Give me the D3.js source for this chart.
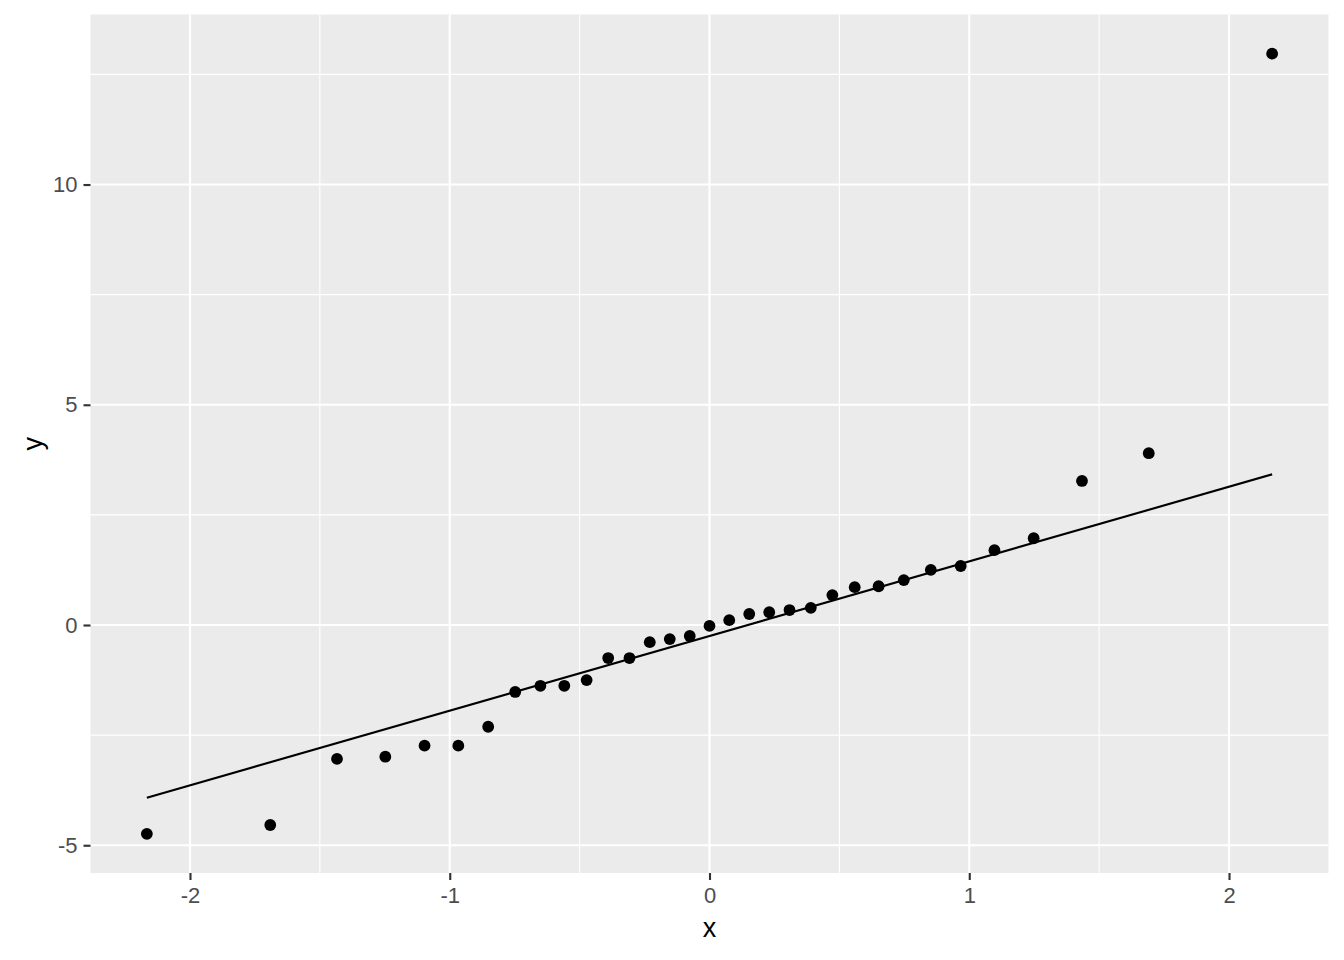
<!DOCTYPE html>
<html><head><meta charset="utf-8">
<script src="https://cdn.jsdelivr.net/npm/d3@7"></script>
<style>body{margin:0;background:#fff;} text{font-family:"Liberation Sans",Arial,sans-serif;}</style>
</head><body><svg id="c" width="1344" height="960"></svg>
<script>
const theoretical = [-2.166,-1.691,-1.434,-1.248,-1.097,-0.967,-0.852,-0.748,-0.651,-0.559,-0.473,-0.390,-0.308,-0.230,-0.153,-0.076,0,0.076,0.153,0.230,0.308,0.390,0.473,0.559,0.651,0.748,0.852,0.967,1.097,1.248,1.434,1.691,2.166];
const sample = [-4.74,-4.54,-3.04,-2.99,-2.74,-2.74,-2.31,-1.52,-1.38,-1.38,-1.25,-0.75,-0.75,-0.39,-0.32,-0.25,-0.02,0.11,0.25,0.29,0.34,0.39,0.68,0.86,0.88,1.02,1.25,1.34,1.70,1.97,3.27,3.90,12.97];
const lineX = [-2.166, 2.166];
const lineY = [-3.92, 3.42];
const xTicks = [-2,-1,0,1,2];
const yTicks = [-5,0,5,10];
const xMinor = [-1.5,-0.5,0.5,1.5];
const yMinor = [-2.5,2.5,7.5,12.5];

const svg = d3.select("#c");
const L=90.5, R=1328.5, T=14.5, B=873;
const x = d3.scaleLinear().domain([-2.383,2.383]).range([L,R]);
const y = d3.scaleLinear().domain([-5.63,13.86]).range([B,T]);

svg.append("rect").attr("x",L).attr("y",T).attr("width",R-L).attr("height",B-T).attr("fill","#EBEBEB");
const g = svg.append("g");
g.selectAll(".xm").data(xMinor).join("line").attr("x1",d=>x(d)).attr("x2",d=>x(d)).attr("y1",T).attr("y2",B).attr("stroke","#fff").attr("stroke-width",1.07);
g.selectAll(".ym").data(yMinor).join("line").attr("y1",d=>y(d)).attr("y2",d=>y(d)).attr("x1",L).attr("x2",R).attr("stroke","#fff").attr("stroke-width",1.07);
g.selectAll(".xM").data(xTicks).join("line").attr("x1",d=>x(d)).attr("x2",d=>x(d)).attr("y1",T).attr("y2",B).attr("stroke","#fff").attr("stroke-width",2.13);
g.selectAll(".yM").data(yTicks).join("line").attr("y1",d=>y(d)).attr("y2",d=>y(d)).attr("x1",L).attr("x2",R).attr("stroke","#fff").attr("stroke-width",2.13);

const fmt = d => String(d);
const xAxis = svg.append("g").attr("transform",`translate(0,${B})`).call(d3.axisBottom(x).tickValues(xTicks).tickSize(7).tickPadding(7.5).tickFormat(fmt));
const yAxis = svg.append("g").attr("transform",`translate(${L},0)`).call(d3.axisLeft(y).tickValues(yTicks).tickSize(7).tickPadding(6).tickFormat(fmt));
[xAxis,yAxis].forEach(a=>{
  a.select(".domain").remove();
  a.selectAll(".tick line").attr("stroke","#333").attr("stroke-width",2.13);
  a.selectAll(".tick text").attr("fill","#4D4D4D").style("font-size","22px");
});

svg.append("path").datum(lineX.map((d,i)=>[d,lineY[i]]))
  .attr("d",d3.line().x(d=>x(d[0])).y(d=>y(d[1])))
  .attr("stroke","#000").attr("stroke-width",2.13).attr("fill","none");

svg.selectAll(".pt").data(theoretical.map((d,i)=>[d,sample[i]])).join("circle")
  .attr("cx",d=>x(d[0])).attr("cy",d=>y(d[1])).attr("r",5.9).attr("fill","#000");

svg.append("text").attr("x",(L+R)/2).attr("y",937).attr("text-anchor","middle").style("font-size","27px").text("x");
svg.append("text").attr("transform",`translate(42,${(T+B)/2}) rotate(-90)`).attr("text-anchor","middle").style("font-size","27px").text("y");
</script></body></html>
